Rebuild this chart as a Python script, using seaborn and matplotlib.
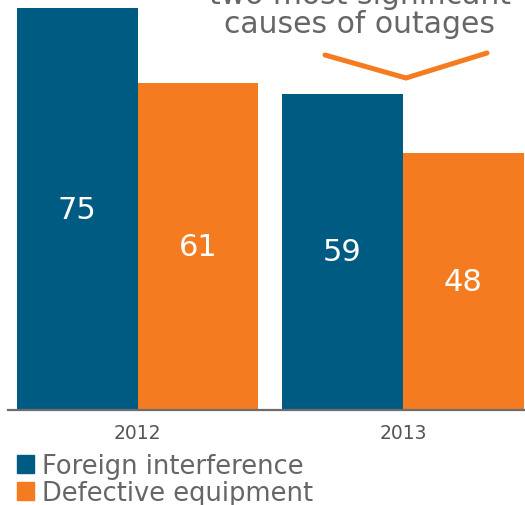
import matplotlib
matplotlib.use("Agg")
import matplotlib.pyplot as plt
from matplotlib.lines import Line2D
import seaborn as sns
import pandas as pd

years = ["2012", "2013"]
foreign_interference = [75, 59]
defective_equipment = [61, 48]
series_names = ["Foreign interference", "Defective equipment"]
title_lines = ["two most significant", "causes of outages"]

BLUE = "#005b82"
ORANGE = "#f47b20"
GRAY = "#666666"

df = pd.DataFrame({
    "year": years * 2,
    "outages": foreign_interference + defective_equipment,
    "cause": [series_names[0]] * len(years) + [series_names[1]] * len(years),
})

sns.set_theme(style="white")
plt.rcParams["font.family"] = ["DejaVu Sans"]

W, H = 525, 506
fig = plt.figure(figsize=(W / 100, H / 100), dpi=100)
ax = fig.add_axes([8 / W, (H - 411) / H, 517 / W, 411 / H])

sns.barplot(data=df, x="year", y="outages", hue="cause",
            palette=[BLUE, ORANGE], width=0.91, saturation=1,
            edgecolor="none", linewidth=0, ax=ax, legend=False)

for cont in ax.containers:
    ax.bar_label(cont, label_type="center", color="white", fontsize=22)

ax.set_xlim(-0.488, 1.46)
ax.set_ylim(0, 76.7)
ax.set_xlabel("")
ax.set_ylabel("")
ax.set_yticks([])
ax.tick_params(axis="x", length=0, pad=9.5, labelsize=13.5, labelcolor="#555555")
for side in ["top", "left", "right"]:
    ax.spines[side].set_visible(False)
ax.spines["bottom"].set_color("#6d6d6d")
ax.spines["bottom"].set_linewidth(1.6)

# headline above the 2013 group (its first line runs off the top edge)
fig.text(360 / W, (H - 4) / H, title_lines[0], ha="center", va="baseline",
         fontsize=21.5, color=GRAY)
fig.text(360 / W, (H - 33) / H, title_lines[1], ha="center", va="baseline",
         fontsize=21.5, color=GRAY)

# orange chevron pointing down at the 2013 bars
xs = [325 / W, 406 / W, 487 / W]
ys = [(H - 56) / H, (H - 79) / H, (H - 54) / H]
fig.add_artist(Line2D(xs, ys, color=ORANGE, linewidth=3.6,
                      transform=fig.transFigure, solid_joinstyle="miter"))

handles = [plt.Rectangle((0, 0), 1, 1, color=c) for c in (BLUE, ORANGE)]
fig.legend(handles, series_names, loc="upper left",
           bbox_to_anchor=(17 / W, (H - 454) / H), frameon=False,
           fontsize=18.5, labelcolor=GRAY, handlelength=0.68,
           handleheight=0.68, handletextpad=0.3, labelspacing=0.05,
           borderpad=0, borderaxespad=0)

fig.savefig("out.png", dpi=100)
